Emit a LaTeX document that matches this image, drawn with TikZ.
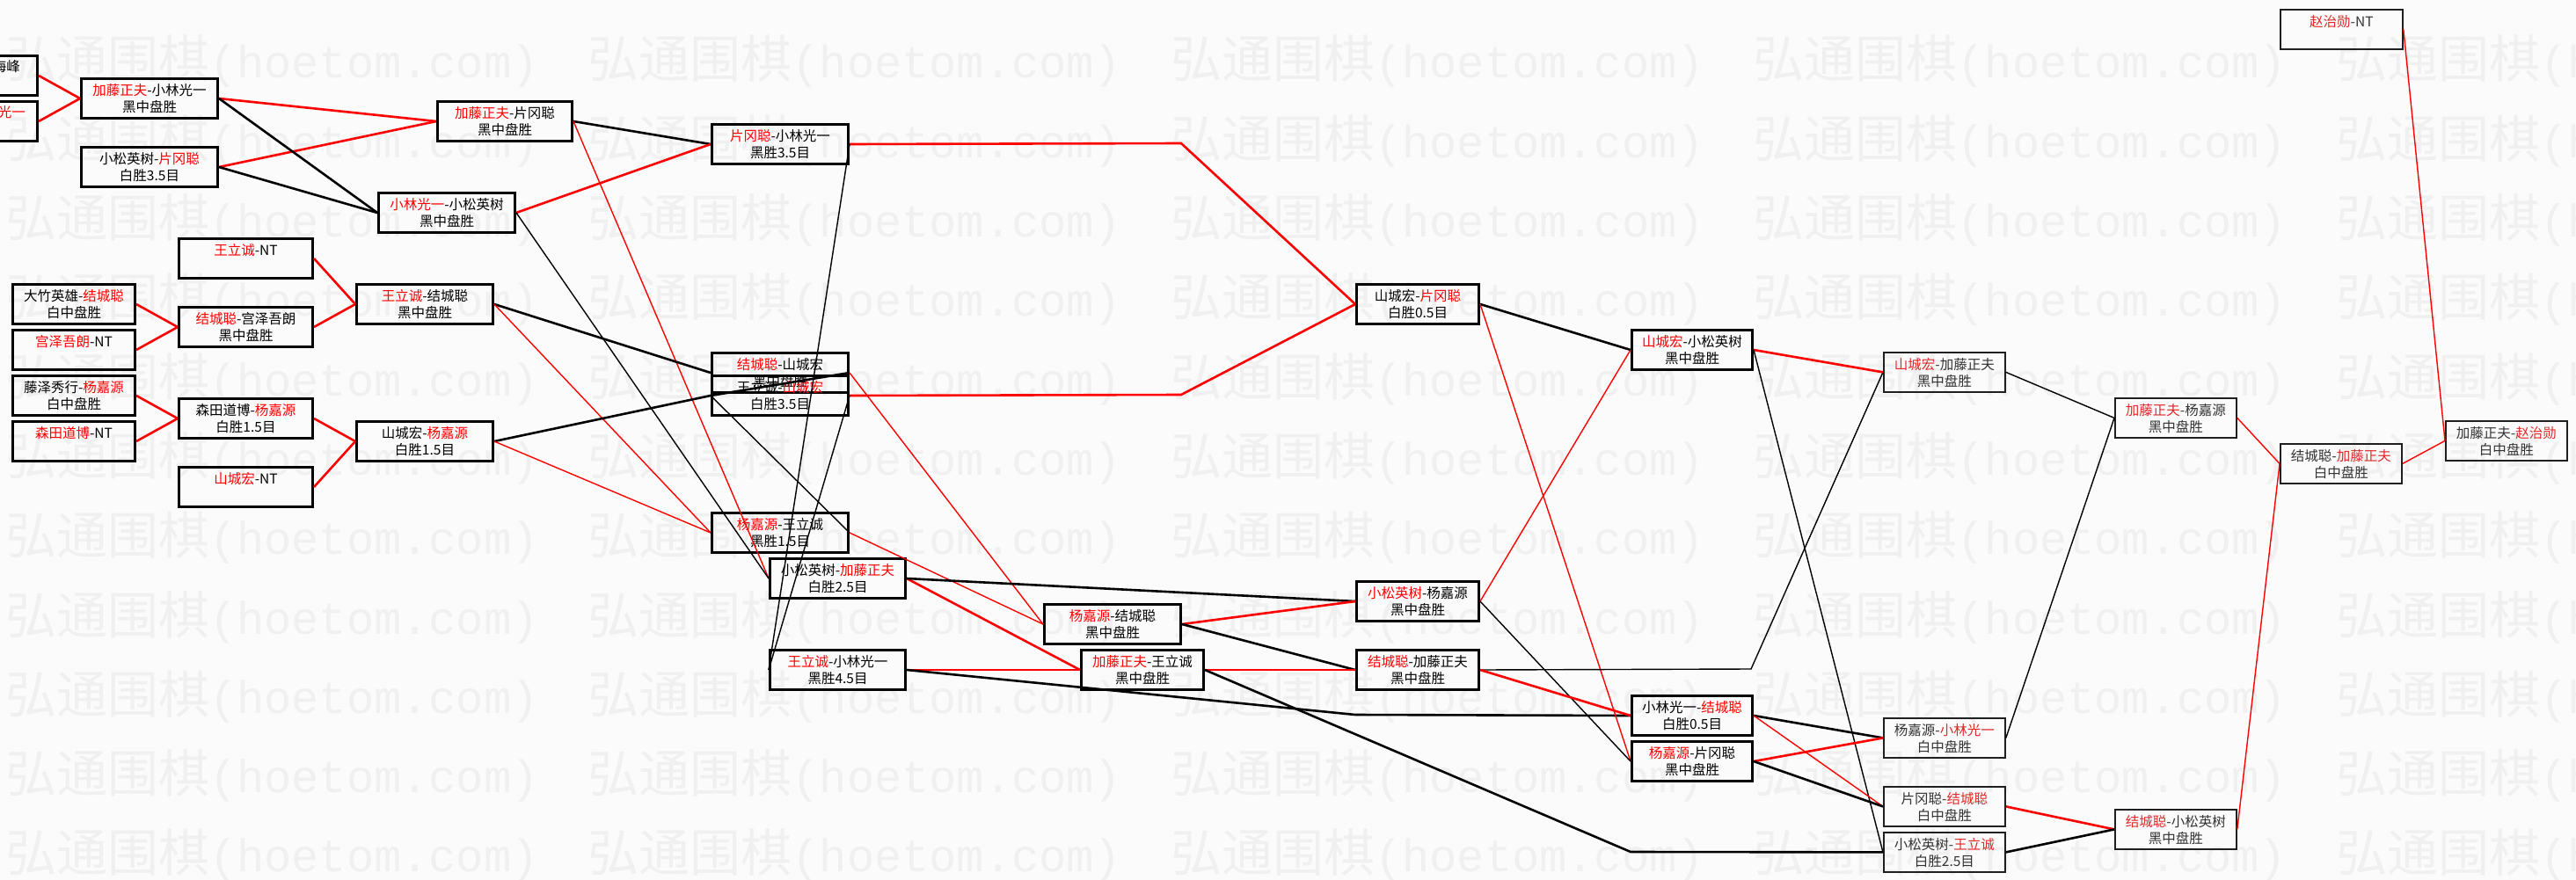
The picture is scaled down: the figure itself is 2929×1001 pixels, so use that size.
\documentclass[tikz,border=0pt]{standalone}
\usepackage{fontspec}
\setmainfont{Noto Sans CJK SC}
\newfontfamily\wmmono{Liberation Mono}
\definecolor{wred}{HTML}{FF0000}
\definecolor{lred}{HTML}{E02828}
\definecolor{ltext}{HTML}{333333}
\definecolor{bgc}{HTML}{FBFBFB}
\definecolor{wmc}{HTML}{F0F0F0}
\newcommand\winA[1]{\textcolor{wred}{#1}}
\newcommand\winB[1]{\textcolor{lred}{#1}}
\tikzset{
  boxA/.style={draw=black, line width=3pt, inner sep=0pt},
  boxB/.style={draw=black!88, line width=1.8pt, inner sep=0pt},
  txtA/.style={inner sep=0pt, text=black, font=\fontsize{15.5}{16}\selectfont},
  txtB/.style={inner sep=0pt, text=ltext, font=\fontsize{15.5}{16}\selectfont},
  tr/.style={draw=wred, line width=2.6pt},
  tb/.style={draw=black, line width=2.6pt},
  nr/.style={draw=wred, line width=1.4pt},
  nb/.style={draw=black, line width=1.4pt},
  wm/.style={inner sep=0pt, text=wmc, anchor=west}
}
% name, style(A/B), left, top, width, line1, line2
\newcommand\gamebox[7]{%
  \node[box#2, minimum width=#5pt, minimum height=45pt, anchor=north west] (#1) at (#3,#4) {};
  \node[txt#2] (#1t) at ([yshift=-15pt]#1.north) {#6};
  \node[txt#2] (#1r) at ([yshift=-34pt]#1.north) {#7};
}
\newcommand\ntbox[6]{%
  \node[box#2, minimum width=#5pt, minimum height=45pt, anchor=north west] (#1) at (#3,#4) {};
  \node[txt#2] (#1t) at ([yshift=-15pt]#1.north) {#6};
}
\begin{document}
\begin{tikzpicture}[x=1pt,y=-1pt]
\useasboundingbox (0,0) rectangle (2929,1001);
\fill[bgc] (0,0) rectangle (2929,1001);
\clip (0,0) rectangle (2929,1001);
% watermark
\foreach \k in {0,...,10}{
  \foreach \j in {0,...,4}{
    \node[wm] (wm-\k-\j) at ({6+662.5*\j},{70+90.3*\k})
      {{\fontsize{58}{58}\selectfont 弘通围棋}{\wmmono\fontsize{52}{52}\selectfont(hoetom.com)}};
  }
}
% ---- boxes ----
\node[boxA, minimum width=155pt, minimum height=45pt, anchor=north west] (N1) at (-114,62) {};
\node[txtA, anchor=east] (N1t) at (23,76) {海峰};
\node[boxA, minimum width=155pt, minimum height=45pt, anchor=north west] (N2) at (-114,114) {};
\node[txtA, anchor=east] (N2t) at (29,128) {\winA{光一}};
\gamebox{N3}{A}{91}{88}{155}{\winA{加藤正夫}-小林光一}{黑中盘胜}
\gamebox{N4}{A}{91}{166}{155}{小松英树-\winA{片冈聪}}{白胜3.5目}
\gamebox{N5}{A}{496}{114}{153}{\winA{加藤正夫}-片冈聪}{黑中盘胜}
\gamebox{N6}{A}{429}{218}{155}{\winA{小林光一}-小松英树}{黑中盘胜}
\gamebox{N7}{A}{808}{140}{155}{\winA{片冈聪}-小林光一}{黑胜3.5目}
\ntbox{N8}{A}{202}{270}{152}{\winA{王立诚}-NT}
\gamebox{N9}{A}{13}{322}{139}{大竹英雄-\winA{结城聪}}{白中盘胜}
\ntbox{N10}{A}{13}{374}{139}{\winA{宫泽吾朗}-NT}
\gamebox{N11}{A}{202}{348}{152}{\winA{结城聪}-宫泽吾朗}{黑中盘胜}
\gamebox{N12}{A}{404}{322}{155}{\winA{王立诚}-结城聪}{黑中盘胜}
\gamebox{N13}{A}{13}{426}{139}{藤泽秀行-\winA{杨嘉源}}{白中盘胜}
\ntbox{N14}{A}{13}{478}{139}{\winA{森田道博}-NT}
\gamebox{N15}{A}{202}{452}{152}{森田道博-\winA{杨嘉源}}{白胜1.5目}
\gamebox{N16}{A}{404}{478}{155}{山城宏-\winA{杨嘉源}}{白胜1.5目}
\ntbox{N17}{A}{202}{530}{152}{\winA{山城宏}-NT}
\gamebox{N18}{A}{808}{400}{155}{\winA{结城聪}-山城宏}{黑中盘胜}
\gamebox{N19}{A}{808}{426}{155}{王立诚-\winA{山城宏}}{白胜3.5目}
\gamebox{N20}{A}{808}{582}{155}{\winA{杨嘉源}-王立诚}{黑胜1.5目}
\gamebox{N21}{A}{874}{634}{154}{小松英树-\winA{加藤正夫}}{白胜2.5目}
\gamebox{N22}{A}{874}{738}{154}{\winA{王立诚}-小林光一}{黑胜4.5目}
\gamebox{N25}{A}{1186}{686}{155}{\winA{杨嘉源}-结城聪}{黑中盘胜}
\gamebox{N26}{A}{1228}{738}{139}{\winA{加藤正夫}-王立诚}{黑中盘胜}
\gamebox{N23}{A}{1541}{322}{139}{山城宏-\winA{片冈聪}}{白胜0.5目}
\gamebox{N24}{A}{1541}{660}{139}{\winA{小松英树}-杨嘉源}{黑中盘胜}
\gamebox{N27}{A}{1541}{738}{139}{\winA{结城聪}-加藤正夫}{黑中盘胜}
\gamebox{N28}{A}{1854}{374}{137}{\winA{山城宏}-小松英树}{黑中盘胜}
\gamebox{N34}{A}{1854}{790}{137}{小林光一-\winA{结城聪}}{白胜0.5目}
\gamebox{N35}{A}{1854}{842}{137}{\winA{杨嘉源}-片冈聪}{黑中盘胜}
\gamebox{N29}{B}{2141}{400}{138}{\winB{山城宏}-加藤正夫}{黑中盘胜}
\gamebox{N36}{B}{2141}{816}{138}{杨嘉源-\winB{小林光一}}{白中盘胜}
\gamebox{N37}{B}{2141}{894}{138}{片冈聪-\winB{结城聪}}{白中盘胜}
\gamebox{N38}{B}{2141}{946}{138}{小松英树-\winB{王立诚}}{白胜2.5目}
\gamebox{N30}{B}{2404}{452}{138}{\winB{加藤正夫}-杨嘉源}{黑中盘胜}
\gamebox{N39}{B}{2404}{920}{138}{\winB{结城聪}-小松英树}{黑中盘胜}
\gamebox{N31}{B}{2592}{504}{138}{结城聪-\winB{加藤正夫}}{白中盘胜}
\gamebox{N32}{B}{2780}{478}{138}{加藤正夫-\winB{赵治勋}}{白中盘胜}
\ntbox{N33}{B}{2592}{10}{139}{\winB{赵治勋}-NT}
% ---- bend points ----
\coordinate (b7) at (1343,163);
\coordinate (b19) at (1343,449);
\coordinate (b22) at (1541,813);
\coordinate (b27) at (1991,761);
\coordinate (b26) at (1854,969);
% ---- connectors ----
\draw[tr] (N1.east) -- (N3.west);
\draw[tr] (N2.east) -- (N3.west);
\draw[tr] (N3.east) -- (N5.west);
\draw[tr] (N4.east) -- (N5.west);
\draw[tb] (N3.east) -- (N6.west);
\draw[tb] (N4.east) -- (N6.west);
\draw[tb] (N5.east) -- (N7.west);
\draw[tr] (N6.east) -- (N7.west);
\draw[nr] (N5.east) -- (N21.west);
\draw[nb] (N6.east) -- (N21.west);
\draw[tr] (N7.east) -- (b7) -- (N23.west);
\draw[nb] (N7.east) -- (N22.west);
\draw[tr] (N9.east) -- (N11.west);
\draw[tr] (N10.east) -- (N11.west);
\draw[tr] (N8.east) -- (N12.west);
\draw[tr] (N11.east) -- (N12.west);
\draw[tr] (N13.east) -- (N15.west);
\draw[tr] (N14.east) -- (N15.west);
\draw[tr] (N15.east) -- (N16.west);
\draw[tr] (N17.east) -- (N16.west);
\draw[tb] (N12.east) -- (N18.west);
\draw[nr] (N12.east) -- (N20.west);
\draw[tb] (N16.east) -- (N19.west);
\draw[nr] (N16.east) -- (N20.west);
\draw[tb] (N18.east) -- (N19.west);
\draw[nr] (N18.east) -- (N25.west);
\draw[tr] (N19.east) -- (b19) -- (N23.west);
\draw[nb] (N19.east) -- (N22.west);
\draw[nb] (N20.east) -- (N19.west);
\draw[nr] (N20.east) -- (N25.west);
\draw[tr] (N21.east) -- (N26.west);
\draw[tb] (N21.east) -- (N24.west);
\draw[tr] (N22.east) -- (N26.west);
\draw[tb] (N22.east) -- (b22) -- (N34.west);
\draw[tr] (N25.east) -- (N24.west);
\draw[tb] (N25.east) -- (N27.west);
\draw[tr] (N26.east) -- (N27.west);
\draw[tb] (N26.east) -- (b26) -- (N38.west);
\draw[tb] (N23.east) -- (N28.west);
\draw[nr] (N23.east) -- (N35.west);
\draw[nr] (N24.east) -- (N28.west);
\draw[nb] (N24.east) -- (N35.west);
\draw[nb] (N27.east) -- (b27) -- (N29.west);
\draw[tr] (N27.east) -- (N34.west);
\draw[tr] (N28.east) -- (N29.west);
\draw[nb] (N28.east) -- (N38.west);
\draw[nb] (N29.east) -- (N30.west);
\draw[tb] (N34.east) -- (N36.west);
\draw[nr] (N34.east) -- (N37.west);
\draw[tr] (N35.east) -- (N36.west);
\draw[tb] (N35.east) -- (N37.west);
\draw[nb] (N36.east) -- (N30.west);
\draw[tr] (N37.east) -- (N39.west);
\draw[tb] (N38.east) -- (N39.west);
\draw[nr] (N30.east) -- (N31.west);
\draw[nr] (N39.east) -- (N31.west);
\draw[nr] (N31.east) -- (N32.west);
\draw[nr] (N33.east) -- (N32.west);
\end{tikzpicture}
\end{document}
